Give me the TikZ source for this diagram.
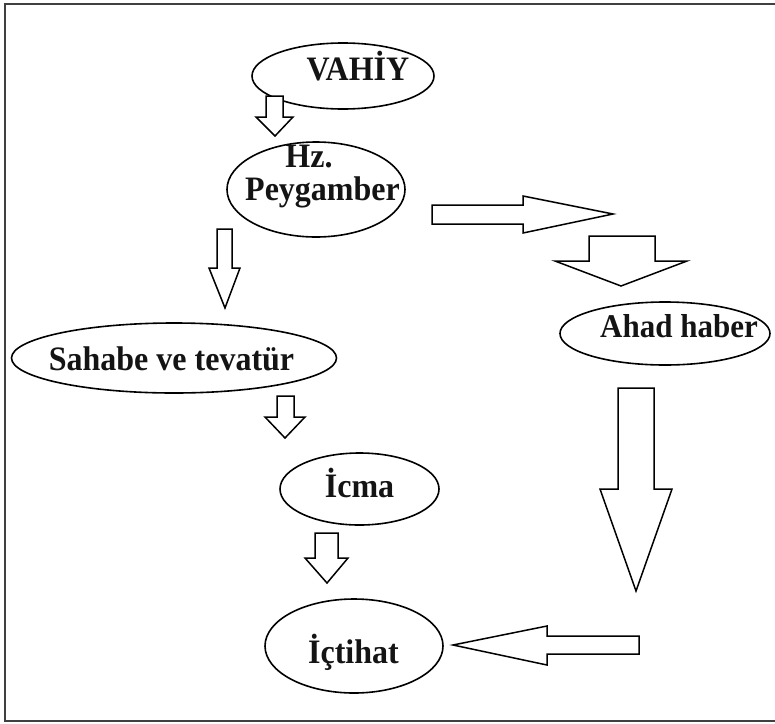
\documentclass[tikz,border=0pt]{standalone}
\usepackage{fontspec}
\setmainfont{Liberation Serif}
\usetikzlibrary{shapes.geometric}
\newcommand{\tallt}[1]{\scalebox{1}[1.07]{#1}}
\begin{document}
\begin{tikzpicture}[x=1pt,y=-1pt,
  oval/.style={draw=black,line width=1.6pt,ellipse,inner sep=0pt},
  lbl/.style={anchor=base,inner sep=0pt,font=\fontsize{32}{34}\selectfont\bfseries,text=black!92},
  blockarrow/.style={draw=black,line width=1.5pt,line join=miter,fill=white},
  frameline/.style={draw=black!75,line width=2pt}]
\useasboundingbox (0,0) rectangle (775,723);
% frame
\draw[frameline] (775,4) -- (5,4) -- (5,721) -- (775,721);
% ellipses
\node[oval,minimum width=182pt,minimum height=66pt] (vahiy) at (343,76) {};
\node[oval,minimum width=178pt,minimum height=95pt] (peyg) at (316,189.5) {};
\node[oval,minimum width=325pt,minimum height=70pt] (sahabe) at (174,358) {};
\node[oval,minimum width=210pt,minimum height=63pt] (ahad) at (665,333.5) {};
\node[oval,minimum width=159pt,minimum height=72pt] (icma) at (359.5,489) {};
\node[oval,minimum width=178pt,minimum height=94pt] (ictihat) at (354,646) {};
% labels
\node[lbl] (vahiyt) at (358,80) {\tallt{VAHİY}};
\node[lbl] (hzt) at (309,167) {\tallt{Hz.}};
\node[lbl] (peygt) at (322.5,200.5) {\tallt{Peygamber}};
\node[lbl] (sahabet) at (171.5,370) {\tallt{Sahabe ve tevatür}};
\node[lbl,font=\fontsize{31}{33}\selectfont\bfseries] (ahadt) at (679,337) {\tallt{Ahad haber}};
\node[lbl] (icmat) at (359.5,497) {\tallt{İcma}};
\node[lbl] (ictihatt) at (353.5,663) {\tallt{İçtihat}};
% block arrows
\draw[blockarrow] (266,96) -- (283,96) -- (283,117) -- (293,117) -- (275,136) -- (256,117) -- (266,117) -- cycle;
\draw[blockarrow] (217,229) -- (232,229) -- (232,268) -- (240,268) -- (225,308) -- (209,268) -- (217,268) -- cycle;
\draw[blockarrow] (432,205) -- (523,205) -- (523,196) -- (613,214) -- (523,233) -- (523,224) -- (432,224) -- cycle;
\draw[blockarrow] (589,236) -- (655,236) -- (655,261) -- (687,261) -- (621,286) -- (555,261) -- (589,261) -- cycle;
\draw[blockarrow] (618,388) -- (654,388) -- (654,489) -- (672,489) -- (636,591) -- (600,489) -- (618,489) -- cycle;
\draw[blockarrow] (639,636) -- (547,636) -- (547,626) -- (453,645) -- (547,665) -- (547,654) -- (639,654) -- cycle;
\draw[blockarrow] (277,396) -- (294,396) -- (294,417) -- (305,417) -- (285,438) -- (265,417) -- (277,417) -- cycle;
\draw[blockarrow] (315,533) -- (338,533) -- (338,558) -- (348,558) -- (327,583) -- (305,558) -- (315,558) -- cycle;
\end{tikzpicture}
\end{document}
